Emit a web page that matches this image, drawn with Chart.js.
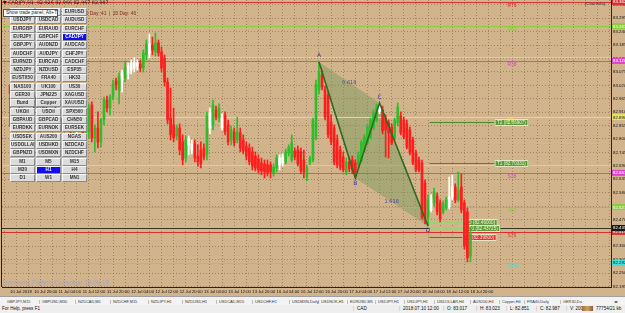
<!DOCTYPE html>
<html>
<head>
<meta charset="utf-8">
<script src="https://cdn.jsdelivr.net/npm/chart.js@4.4.0/dist/chart.umd.min.js"></script>
<style>
  html, body { margin: 0; padding: 0; width: 625px; height: 313px; overflow: hidden; background: #d2b48c; font-family: "Liberation Sans", Arial, sans-serif; }
  #chart { position: absolute; left: 0; top: 0; }
  #panel { position: absolute; left: 10px; top: 8px; width: 77px; height: 175px; }
  .btn { position: absolute; width: 25px; height: 8px; box-sizing: border-box; background: #dcdcdc; border: 1px solid; border-color: #f8f8f8 #8a8a8a #8a8a8a #f8f8f8;
         font: bold 4.6px "Liberation Sans", Arial, sans-serif; line-height: 6px; text-align: center; color: #333; white-space: nowrap; overflow: hidden; }
  .btn.sel { background: #1010e8; color: #fff; }
  #tip { position: absolute; left: 3px; top: 9px; width: 55px; height: 8px; box-sizing: border-box; background: #fff; border: 1px solid #555;
         font: 4.8px "Liberation Sans", Arial, sans-serif; line-height: 6px; padding-left: 2px; color: #222; white-space: nowrap; }
  #tabs { position: absolute; left: 0; top: 296px; width: 625px; height: 9px; background: #f3f3f3; border-top: 1px solid #a0a0a0; box-sizing: border-box; }
  #status { position: absolute; left: 0; top: 305px; width: 625px; height: 8px; background: #efefef; }
  .t { position: absolute; top: 1.5px; font: 3.9px "Liberation Sans", Arial, sans-serif; color: #333; white-space: nowrap; }
  .s { position: absolute; top: 1px; font: 4.6px "Liberation Sans", Arial, sans-serif; color: #111; white-space: nowrap; }
</style>
</head>
<body>
<canvas id="chart" width="625" height="296"></canvas>
<div id="panel"></div>
<div id="tip">Show trade panel, Alt+T</div>
<div id="tabs"></div>
<div id="status"></div>
<script>
// CADJPY H1, 10 Jul 12:00 .. 18 Jul 20:00
const timeLabels = ['10 Jul 2018', '10 Jul 20:00', '11 Jul 04:00', '11 Jul 12:00', '11 Jul 20:00', '12 Jul 04:00',
  '12 Jul 12:00', '12 Jul 20:00', '13 Jul 04:00', '13 Jul 12:00', '13 Jul 20:00', '16 Jul 04:00', '16 Jul 12:00',
  '16 Jul 20:00', '17 Jul 04:00', '17 Jul 12:00', '17 Jul 20:00', '18 Jul 04:00', '18 Jul 12:00', '18 Jul 20:00'];

const priceTicks = [83.350, 83.295, 83.240, 83.185, 83.130, 83.075, 83.020, 82.965, 82.910, 82.855, 82.800,
  82.745, 82.690, 82.635, 82.580, 82.525, 82.470, 82.415, 82.360, 82.305, 82.250, 82.195];

const openP = [83.017, 82.976, 83.009, 82.981, 82.944, 82.960, 82.981, 82.993, 82.972, 82.931, 82.948, 82.968, 82.919, 82.886, 82.899, 82.915,
  82.903, 82.858, 82.874, 82.890, 82.870, 82.833, 82.849, 82.862, 82.845, 82.812, 82.829, 82.940, 82.804, 82.845, 82.788, 82.878,
  82.960, 82.927, 82.972, 83.038, 83.001, 83.042, 83.050, 83.067, 83.083, 83.091, 83.099, 83.108, 83.091, 83.145, 83.149, 83.186,
  83.157, 83.194, 83.157, 83.132, 83.034, 82.886, 82.858, 82.812, 82.845, 82.788, 82.722, 82.776, 82.755, 82.780, 82.730, 82.755,
  82.763, 82.735, 82.845, 82.858, 82.919, 82.886, 82.845, 82.899, 82.858, 82.796, 82.829, 82.796, 82.825, 82.796, 82.771, 82.763,
  82.747, 82.730, 82.718, 82.702, 82.698, 82.694, 82.694, 82.661, 82.681, 82.694, 82.702, 82.706, 82.743, 82.714, 82.751, 82.755,
  82.747, 82.714, 82.644, 82.702, 82.714, 82.808, 83.001, 83.063, 83.001, 82.981, 82.870, 82.845, 82.796, 82.755, 82.726, 82.665,
  82.706, 82.714, 82.702, 82.694, 82.714, 82.755, 82.784, 82.808, 82.849, 82.878, 82.911, 82.919, 82.886, 82.866, 82.849, 82.808,
  82.866, 82.894, 82.878, 82.862, 82.837, 82.796, 82.743, 82.714, 82.702, 82.620, 82.476, 82.509, 82.538, 82.566, 82.538, 82.501,
  82.521, 82.521, 82.562, 82.603, 82.550, 82.603, 82.538, 82.501, 82.320];

const highP = [83.023, 83.026, 83.017, 83.001, 82.968, 82.993, 83.009, 83.017, 82.985, 82.960, 82.981, 82.985, 82.935, 82.911, 82.927, 82.940,
  82.919, 82.886, 82.903, 82.911, 82.894, 82.862, 82.878, 82.886, 82.874, 82.845, 82.944, 82.952, 82.858, 82.911, 82.886, 82.972,
  82.976, 82.981, 83.042, 83.050, 83.071, 83.083, 83.116, 83.112, 83.124, 83.132, 83.124, 83.124, 83.165, 83.206, 83.231, 83.218,
  83.235, 83.206, 83.177, 83.145, 83.050, 83.009, 82.927, 82.858, 82.862, 82.817, 82.812, 82.812, 82.796, 82.796, 82.776, 82.788,
  82.780, 82.911, 82.927, 82.960, 82.935, 82.944, 82.903, 82.911, 82.878, 82.853, 82.845, 82.890, 82.845, 82.817, 82.788, 82.780,
  82.767, 82.747, 82.735, 82.722, 82.714, 82.714, 82.706, 82.698, 82.735, 82.735, 82.739, 82.759, 82.776, 82.817, 82.763, 82.771,
  82.763, 82.755, 82.694, 82.730, 82.886, 83.042, 83.116, 83.083, 83.017, 82.993, 82.899, 82.858, 82.817, 82.771, 82.747, 82.722,
  82.722, 82.730, 82.714, 82.747, 82.796, 82.817, 82.858, 82.886, 82.919, 82.944, 82.948, 82.935, 82.899, 82.878, 82.862, 82.886,
  82.948, 82.911, 82.890, 82.878, 82.849, 82.808, 82.755, 82.726, 82.714, 82.632, 82.571, 82.571, 82.599, 82.579, 82.550, 82.546,
  82.562, 82.644, 82.653, 82.616, 82.665, 82.657, 82.550, 82.517, 82.435];

const lowP = [82.851, 82.940, 82.960, 82.927, 82.911, 82.935, 82.956, 82.964, 82.919, 82.899, 82.927, 82.911, 82.870, 82.853, 82.878, 82.890,
  82.845, 82.829, 82.853, 82.862, 82.817, 82.804, 82.825, 82.837, 82.796, 82.780, 82.804, 82.788, 82.747, 82.763, 82.767, 82.858,
  82.911, 82.899, 82.960, 83.001, 82.944, 82.993, 83.034, 83.046, 83.067, 83.075, 83.083, 83.075, 83.075, 83.124, 83.132, 83.145,
  83.140, 83.140, 83.075, 83.017, 82.862, 82.796, 82.788, 82.796, 82.735, 82.694, 82.706, 82.735, 82.739, 82.706, 82.689, 82.681,
  82.714, 82.714, 82.821, 82.837, 82.878, 82.870, 82.837, 82.817, 82.776, 82.776, 82.771, 82.784, 82.747, 82.739, 82.714, 82.694,
  82.673, 82.669, 82.661, 82.653, 82.640, 82.648, 82.640, 82.648, 82.665, 82.673, 82.689, 82.698, 82.730, 82.706, 82.714, 82.689,
  82.657, 82.640, 82.628, 82.694, 82.706, 82.796, 82.985, 83.001, 82.878, 82.804, 82.776, 82.694, 82.681, 82.673, 82.665, 82.653,
  82.665, 82.657, 82.640, 82.681, 82.706, 82.747, 82.776, 82.800, 82.837, 82.870, 82.903, 82.821, 82.726, 82.722, 82.776, 82.796,
  82.853, 82.817, 82.800, 82.759, 82.735, 82.694, 82.665, 82.665, 82.472, 82.452, 82.443, 82.501, 82.525, 82.489, 82.460, 82.493,
  82.509, 82.513, 82.550, 82.538, 82.542, 82.497, 82.349, 82.296, 82.296];

const closeP = [82.987, 83.009, 82.981, 82.944, 82.960, 82.981, 82.993, 82.972, 82.931, 82.948, 82.968, 82.919, 82.886, 82.899, 82.915, 82.903,
  82.858, 82.874, 82.890, 82.870, 82.833, 82.849, 82.862, 82.845, 82.812, 82.829, 82.927, 82.804, 82.845, 82.788, 82.878, 82.960,
  82.927, 82.972, 83.026, 83.022, 83.058, 83.071, 83.095, 83.099, 83.112, 83.116, 83.112, 83.091, 83.153, 83.190, 83.190, 83.165,
  83.194, 83.153, 83.091, 83.034, 82.878, 82.817, 82.804, 82.845, 82.755, 82.714, 82.796, 82.800, 82.780, 82.722, 82.706, 82.698,
  82.726, 82.894, 82.907, 82.940, 82.890, 82.927, 82.886, 82.829, 82.788, 82.837, 82.784, 82.829, 82.763, 82.751, 82.730, 82.706,
  82.689, 82.681, 82.673, 82.669, 82.665, 82.661, 82.665, 82.685, 82.722, 82.722, 82.726, 82.747, 82.767, 82.784, 82.726, 82.698,
  82.669, 82.665, 82.681, 82.722, 82.878, 83.022, 83.075, 83.013, 82.890, 82.817, 82.788, 82.706, 82.694, 82.685, 82.673, 82.706,
  82.677, 82.673, 82.653, 82.735, 82.788, 82.808, 82.849, 82.878, 82.907, 82.927, 82.935, 82.833, 82.837, 82.825, 82.784, 82.878,
  82.931, 82.825, 82.808, 82.767, 82.743, 82.702, 82.673, 82.673, 82.480, 82.468, 82.550, 82.558, 82.583, 82.501, 82.472, 82.534,
  82.550, 82.562, 82.603, 82.550, 82.591, 82.509, 82.361, 82.312, 82.411];

// harmonic ABCD pattern
const patternNames = ['A', 'B', 'C', 'D'];
const patternBars = [102, 114, 122, 138];
const patternPrices = [83.116, 82.640, 82.948, 82.443];
const ratioLabels = ['0.618', '1.618'];

// daily pivot levels
const levelNames = ['R76', 'R62', 'R38', 'PP', 'S38', 'S62', 'S76', 'S100'];
const levelPrices = [83.362, 83.263, 83.120, 82.890, 82.661, 82.521, 82.419, 82.292];
const faintPrices = [83.136, 82.694];
const bidPrice = 82.435;

// targets drawn from point D
const targetNames = ['T2 (82.86907)', 'T1 (82.70331)', 'CD (82.46000)', 'CD1 (82.43725)', 'SL (82.39800)'];
const targetPrices = [82.869, 82.703, 82.460, 82.437, 82.398];

const symbolRows = [
  ['GBPUSD', 'USDCHF', 'EURUSD'], ['USDJPY', 'USDCAD', 'AUDUSD'], ['EURGBP', 'EURAUD', 'EURCHF'], ['EURJPY', 'GBPCHF', 'CADJPY'],
  ['GBPJPY', 'AUDNZD', 'AUDCAD'], ['AUDCHF', 'AUDJPY', 'CHFJPY'], ['EURNZD', 'EURCAD', 'CADCHF'], ['NZDJPY', 'NZDUSD', 'ESP35'],
  ['EUSTX50', 'FRA40', 'HK33'], ['NAS100', 'UK100', 'US30'], ['GER30', 'JPN225', 'XAGUSD'], ['Bund', 'Copper', 'XAUUSD'],
  ['UKOil', 'USOil', 'SPX500'], ['GBPAUD', 'GBPCAD', 'CHN50'], ['EURDKK', 'EURNOK', 'EURSEK'], ['USDSEK', 'AUS200', 'NGAS'],
  ['USDOLLAR', 'USDHKD', 'NZDCAD'], ['GBPNZD', 'USDMXN', 'NZDCHF']];
const timeframeRows = [['M1', 'M5', 'M15'], ['M30', 'H1', 'H4'], ['D1', 'W1', 'MN1']];

const tabNames = ['GBPJPY,M15', 'GBPUSD,M30', 'NZDCAD,M5', 'NZDCHF,M15', 'NZDJPY,H1', 'NZDUSD,H1', 'USDCAD,M15', 'USDCHF,H1',
  'USDMXN,Daily', 'USDNOK,H1', 'EURUSD,M5', 'USDJPY,H1', 'USDJPY,H1', 'USDOLLAR,H4', 'AUS200,H4', 'Copper,H4', 'FRA40,Daily', 'GER30,Da'];
const tabX = [7, 42, 78, 113, 151, 185, 219, 255, 292, 321, 350, 378, 407, 437, 473, 502, 527, 563];

const statusTexts = ['For Help, press F1', 'CAD', '2018.07.10 12:00', 'O: 83.017', 'H: 83.023', 'L: 82.851', 'C: 82.987', 'V: 2006', '77754/21 kb'];
const statusX = [2, 357, 403, 447, 480, 510, 540, 570, 596];

// ---- colours ----
const levelColors = ['#d83030', '#8ccc3c', '#d848c8', '#e8e060', '#d848c8', '#8ccc3c', '#d83030', '#40e0d8'];
const levelTextColors = ['#fff', '#fff', '#fff', '#222', '#fff', '#fff', '#fff', '#222'];
const targetLine = ['#4e8a2a', '#4e8a2a', '#9ad070', '#9ad070', '#e03030'];
const targetBox = ['#5f9a3c', '#5f9a3c', '#5f9a3c', '#5f9a3c', '#e03838'];
const targetShift = [65, 65, 33, 33, 33];

function isBear(i) { return closeP[i] < openP[i]; }
function candleColor(i) {
  if (isBear(i)) return '#ff1c1c';
  if (i > 0 && (isBear(i - 1) || closeP[i] > highP[i - 1])) return '#2cbf2c';
  return '#ffffff';
}

function hline(ctx, a, py, color, w) {
  const yy = Math.round(py) + 0.5;
  ctx.strokeStyle = color; ctx.lineWidth = w;
  ctx.beginPath(); ctx.moveTo(a.left, yy); ctx.lineTo(a.right, yy); ctx.stroke();
}

const mt4 = {
  id: 'mt4',
  beforeDatasetsDraw(chart) {
    const {ctx, chartArea: a, scales: {x, y}} = chart;
    ctx.save();
    ctx.beginPath(); ctx.rect(a.left, a.top, a.right - a.left, a.bottom - a.top); ctx.clip();

    faintPrices.forEach(p => hline(ctx, a, y.getPixelForValue(p), 'rgba(240,205,205,0.75)', 1));

    // pattern shading
    const pts = patternBars.map((b, i) => [x.getPixelForValue(b), y.getPixelForValue(patternPrices[i])]);
    ctx.fillStyle = 'rgba(118,150,92,0.45)';
    [[0, 1, 2], [1, 2, 3]].forEach(t => {
      ctx.beginPath();
      ctx.moveTo(pts[t[0]][0], pts[t[0]][1]);
      ctx.lineTo(pts[t[1]][0], pts[t[1]][1]);
      ctx.lineTo(pts[t[2]][0], pts[t[2]][1]);
      ctx.closePath(); ctx.fill();
    });

    levelPrices.forEach((p, i) => hline(ctx, a, y.getPixelForValue(p), levelColors[i], 1));
    hline(ctx, a, y.getPixelForValue(bidPrice), '#3a3424', 1);

    // target lines and boxes
    const x0 = x.getPixelForValue(patternBars[3] + 0.5);
    ctx.font = '4.6px "Liberation Sans", Arial';
    ctx.textBaseline = 'middle';
    targetPrices.forEach((p, i) => {
      const py = Math.round(y.getPixelForValue(p)) + 0.5;
      const bx = x0 + targetShift[i];
      ctx.strokeStyle = targetLine[i]; ctx.lineWidth = 1;
      ctx.beginPath(); ctx.moveTo(x0, py); ctx.lineTo(bx, py); ctx.stroke();
      const w = ctx.measureText(targetNames[i]).width + 5;
      ctx.fillStyle = targetBox[i];
      ctx.fillRect(bx, py - 3.5, w, 7);
      ctx.strokeStyle = '#dfe8c0'; ctx.strokeRect(bx + 0.5, py - 3, w - 1, 6);
      ctx.fillStyle = i === 4 ? '#ffd8d8' : '#eef4d0';
      ctx.fillText(targetNames[i], bx + 2.5, py + 0.3);
    });
    ctx.restore();
  },
  afterDatasetsDraw(chart) {
    const {ctx, chartArea: a, scales: {x, y}} = chart;
    ctx.save();
    ctx.textBaseline = 'middle';

    // pattern letters and ratios
    ctx.font = '6px "DejaVu Sans", sans-serif';
    ctx.fillStyle = '#3a3a9c';
    ctx.textAlign = 'center';
    const off = [-6, 5, -5, 4];
    patternBars.forEach((b, i) => {
      ctx.fillText(patternNames[i], x.getPixelForValue(b), y.getPixelForValue(patternPrices[i]) + off[i]);
    });
    ctx.font = '5px "DejaVu Sans", sans-serif';
    ctx.fillStyle = '#4646a0';
    [[0, 2], [1, 3]].forEach((pr, k) => {
      const mx = (x.getPixelForValue(patternBars[pr[0]]) + x.getPixelForValue(patternBars[pr[1]])) / 2;
      const my = (y.getPixelForValue(patternPrices[pr[0]]) + y.getPixelForValue(patternPrices[pr[1]])) / 2;
      ctx.fillText(ratioLabels[k], mx, my);
    });

    // level names
    ctx.font = '5px "Liberation Sans", Arial';
    ctx.textAlign = 'left';
    const lx = x.getPixelForValue(164.2);
    levelPrices.forEach((p, i) => {
      ctx.fillStyle = levelColors[i];
      ctx.fillText(levelNames[i], lx, y.getPixelForValue(p) + 3.5);
    });

    // header texts
    ctx.fillStyle = '#1c1c1c';
    ctx.font = '4.8px "DejaVu Sans", sans-serif';
    ctx.fillText('\u25BC CADJPY,H1  82.926 82.966 82.967 82.987', 3, 3);
    ctx.fillStyle = '#7c2a24';
    ctx.font = '4.8px "Liberation Sans", Arial';
    ctx.fillText('5 Day: 42  |  10 Day: 41  |  20 Day: 46', 56, 14);
    ctx.fillStyle = '#333';
    ctx.font = '4.4px "Liberation Sans", Arial';
    ctx.fillText('[Chartinfo]', 585, 4);

    // watermark
    ctx.fillStyle = '#a9a3b6';
    ctx.font = '6.4px "Liberation Sans", Arial';
    ctx.fillText('Harmonic Pattern Collection 18.09.10', 3, 283);
    ctx.restore();
  },
  afterDraw(chart) {
    const {ctx, chartArea: a, scales: {y}} = chart;
    ctx.save();
    // left frame
    ctx.strokeStyle = '#2a2218'; ctx.lineWidth = 1;
    ctx.beginPath(); ctx.moveTo(a.left - 0.5, 0); ctx.lineTo(a.left - 0.5, a.bottom); ctx.stroke();
    // price boxes on the axis
    ctx.font = '4.4px "Liberation Sans", Arial';
    ctx.textBaseline = 'middle';
    const boxes = levelPrices.map((p, i) => [p, levelColors[i], levelTextColors[i]]);
    boxes.push([bidPrice, '#161616', '#fff']);
    boxes.forEach(([p, c, tc]) => {
      const py = y.getPixelForValue(p);
      ctx.fillStyle = c;
      ctx.fillRect(a.right + 1, py - 3, 14, 6);
      ctx.fillStyle = tc;
      ctx.fillText(p.toFixed(3), a.right + 2, py + 0.3);
    });
    ctx.restore();
  }
};

const gridCfg = { color: 'rgba(120,95,60,0.55)', lineWidth: 1, drawTicks: false, tickLength: 0 };

new Chart(document.getElementById('chart'), {
  data: {
    datasets: [
      {
        type: 'line', label: 'ABCD',
        data: patternBars.map((b, i) => ({x: b, y: patternPrices[i]})),
        borderColor: '#2f6a20', borderWidth: 1.6, pointRadius: 0, fill: false, tension: 0
      },
      {
        type: 'bar', label: 'body',
        data: openP.map((o, i) => ({x: i, y: [o, closeP[i]]})),
        backgroundColor: c => candleColor(c.dataIndex),
        barThickness: 2, grouped: false, borderWidth: 0
      },
      {
        type: 'bar', label: 'wick',
        data: lowP.map((l, i) => ({x: i, y: [l, highP[i]]})),
        backgroundColor: c => candleColor(c.dataIndex),
        barThickness: 1, grouped: false, borderWidth: 0
      }
    ]
  },
  options: {
    responsive: false,
    animation: false,
    layout: { padding: { left: 2, top: 0, right: 0, bottom: 0 } },
    plugins: { legend: { display: false }, tooltip: { enabled: false } },
    scales: {
      x: {
        type: 'linear', min: -0.65, max: 196.4,
        grid: gridCfg,
        border: { display: true, color: '#2a2218', dash: [1, 2] },
        afterBuildTicks: s => { s.ticks = []; for (let v = 0; v <= 196; v += 4) s.ticks.push({value: v}); },
        ticks: {
          autoSkip: false, maxRotation: 0, align: 'start', padding: 2, color: '#111',
          font: { size: 4.2, family: '"Liberation Sans", Arial' },
          callback: v => (v % 8 === 0 && timeLabels[v / 8]) ? timeLabels[v / 8] : ''
        },
        afterFit: s => { s.height = 9; s.paddingLeft = 0; s.paddingRight = 0; }
      },
      y: {
        position: 'right', min: 82.193, max: 83.370,
        grid: gridCfg,
        border: { display: true, color: '#2a2218', dash: [1, 2] },
        afterBuildTicks: s => { s.ticks = priceTicks.map(v => ({value: v})); },
        ticks: {
          padding: 2, color: '#111',
          font: { size: 4.4, family: '"Liberation Sans", Arial' },
          callback: v => v.toFixed(3)
        },
        afterFit: s => { s.width = 14; s.paddingTop = 0; s.paddingBottom = 0; }
      }
    }
  },
  plugins: [mt4]
});

// trade panel
const panel = document.getElementById('panel');
function addBtn(text, left, top, sel) {
  const d = document.createElement('div');
  d.className = 'btn' + (sel ? ' sel' : '');
  d.style.left = left + 'px'; d.style.top = top + 'px';
  d.textContent = text;
  panel.appendChild(d);
}
symbolRows.forEach((row, r) => row.forEach((s, c) => addBtn(s, c * 26, r * 8.3, s === 'CADJPY')));
timeframeRows.forEach((row, r) => row.forEach((s, c) => addBtn(s, c * 26, 150 + r * 8, s === 'H1')));

// terminal tabs
const tabs = document.getElementById('tabs');
tabNames.forEach((t, i) => {
  const sp = document.createElement('span');
  sp.className = 't'; sp.style.left = tabX[i] + 'px'; sp.textContent = t;
  tabs.appendChild(sp);
  if (i < tabNames.length - 1) {
    const sep = document.createElement('span');
    sep.className = 't'; sep.style.left = (tabX[i + 1] - 3) + 'px'; sep.textContent = '|';
    tabs.appendChild(sep);
  }
});
const arr = document.createElement('span');
arr.className = 't'; arr.style.left = '614px'; arr.textContent = '\u25C2\u25B8';
tabs.appendChild(arr);

// status bar
const status = document.getElementById('status');
statusTexts.forEach((t, i) => {
  const sp = document.createElement('span');
  sp.className = 's'; sp.style.left = statusX[i] + 'px'; sp.textContent = t;
  status.appendChild(sp);
  if (i > 0) {
    const sep = document.createElement('span');
    sep.className = 's'; sep.style.left = (statusX[i] - 4) + 'px'; sep.style.color = '#aaa'; sep.textContent = '|';
    status.appendChild(sep);
  }
});
const icon = document.createElement('div');
icon.style.cssText = 'position:absolute;left:582px;top:1px;width:11px;height:5px;background:linear-gradient(90deg,#a07040,#d0a060,#806040);';
status.appendChild(icon);
</script>
</body>
</html>
